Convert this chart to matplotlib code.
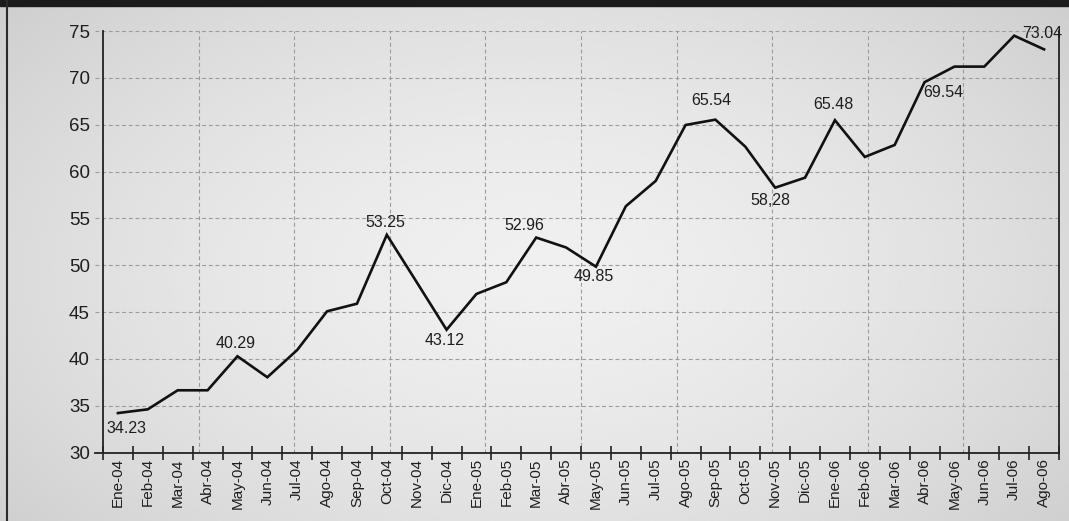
import matplotlib
matplotlib.use("Agg")
import matplotlib.pyplot as plt
import numpy as np

plt.rcParams["font.family"] = ["Liberation Sans", "DejaVu Sans"]

# ---------------------------------------------------------------------------
# Serie mensual
# ---------------------------------------------------------------------------

MESES = [
    "Ene-04", "Feb-04", "Mar-04", "Abr-04", "May-04", "Jun-04", "Jul-04",
    "Ago-04", "Sep-04", "Oct-04", "Nov-04", "Dic-04",
    "Ene-05", "Feb-05", "Mar-05", "Abr-05", "May-05", "Jun-05", "Jul-05",
    "Ago-05", "Sep-05", "Oct-05", "Nov-05", "Dic-05",
    "Ene-06", "Feb-06", "Mar-06", "Abr-06", "May-06", "Jun-06", "Jul-06",
    "Ago-06",
]

VALORES = [
    34.23, 34.63, 36.66, 36.66, 40.29, 38.05, 40.96, 45.09, 45.90, 53.25,
    48.20, 43.12, 46.94, 48.19, 52.96, 51.90, 49.85, 56.30, 59.00, 64.97,
    65.54, 62.66, 58.28, 59.35, 65.48, 61.56, 62.84, 69.54, 71.20, 71.20,
    74.50, 73.04,
]

# indice del mes -> (texto, desplazamiento en pixeles, alineacion)
ETIQUETAS = {
    0:  ("34.23", (9, -15), "center"),
    4:  ("40.29", (-2, 13), "center"),
    9:  ("53.25", (-1, 12), "center"),
    11: ("43.12", (-2, -11), "center"),
    14: ("52.96", (-12, 12), "center"),
    16: ("49.85", (-2, -10), "center"),
    20: ("65.54", (-4, 19), "center"),
    22: ("58,28", (-5, -13), "center"),
    24: ("65.48", (-2, 16), "center"),
    27: ("69.54", (-1, -10), "left"),
    31: ("73.04", (-2, 16), "center"),
}

Y_MIN, Y_MAX, Y_STEP = 30, 75, 5

W, H, DPI = 1069, 521, 100
fig = plt.figure(figsize=(W / DPI, H / DPI), dpi=DPI)

# fondo: gris claro en el centro, mas oscuro hacia los bordes
bg = fig.add_axes([0, 0, 1, 1], zorder=-10)
yy, xx = np.mgrid[0:1:260j, 0:1:540j]
r = np.sqrt(((xx - 0.5) / 0.62) ** 2 + ((yy - 0.52) / 0.75) ** 2)
shade = 0.94 - 0.12 * np.clip(r, 0, 1.2) ** 1.6
bg.imshow(shade, cmap="gray", vmin=0, vmax=1, aspect="auto",
          extent=[0, 1, 0, 1], interpolation="bicubic")
bg.set_xlim(0, 1)
bg.set_ylim(0, 1)
bg.axis("off")

# banda oscura superior y borde izquierdo
fig.patches.append(plt.Rectangle((0, 1 - 6 / H), 1, 6 / H, transform=fig.transFigure,
                                 color="#1b1b1b", zorder=-5))
fig.add_artist(plt.Line2D([6.5 / W, 6.5 / W], [0, 1], transform=fig.transFigure,
                          color="#2a2a2a", lw=1.5))

ax = fig.add_axes([103 / W, 68.3 / H, 956 / W, 421.7 / H])
ax.patch.set_alpha(0)

n = len(MESES)
x = np.arange(n) + 0.5
ax.set_xlim(0, n)
ax.set_ylim(Y_MIN, Y_MAX)

# rejilla discontinua: horizontales cada 5, verticales en 10 tramos iguales
ext = 8 * n / 956
grid_kw = dict(color="#9c9c9c", lw=0.8, ls=(0, (3.5, 2.5)))
for yv in range(Y_MIN + Y_STEP, Y_MAX + 1, Y_STEP):
    ax.plot([-ext, n], [yv, yv], clip_on=False, zorder=1, **grid_kw)
for k in range(1, 10):
    xv = k * n / 10
    ax.plot([xv, xv], [Y_MIN, Y_MAX], zorder=1, **grid_kw)
ax.plot([-ext, 0], [Y_MIN, Y_MIN], color="#222222", lw=1.3, clip_on=False)

ax.plot(x, VALORES, color="#111111", lw=1.9, solid_joinstyle="miter", zorder=3)

for i, (txt, (dx, dy), ha) in ETIQUETAS.items():
    ax.annotate(txt, (x[i], VALORES[i]), xytext=(dx, dy),
                textcoords="offset pixels", ha=ha, va="center",
                fontsize=11.5, color="#1e1e1e", zorder=4)

for side in ("left", "bottom", "right"):
    ax.spines[side].set_color("#222222")
    ax.spines[side].set_linewidth(1.3)
ax.spines["top"].set_visible(False)

ax.set_yticks(range(Y_MIN, Y_MAX + 1, Y_STEP))
ax.tick_params(axis="y", length=0, pad=9.5, labelsize=13.5, labelcolor="#1e1e1e")

ax.set_xticks(np.arange(n + 1))
ax.set_xticklabels([])
ax.set_xticks(x, minor=True)
ax.set_xticklabels(MESES, minor=True, rotation=90)
ax.tick_params(axis="x", which="major", direction="inout", length=10,
               width=1.2, color="#222222")
ax.tick_params(axis="x", which="minor", length=0, pad=4, labelsize=11,
               labelcolor="#1e1e1e")

fig.savefig("out.png", dpi=DPI)
